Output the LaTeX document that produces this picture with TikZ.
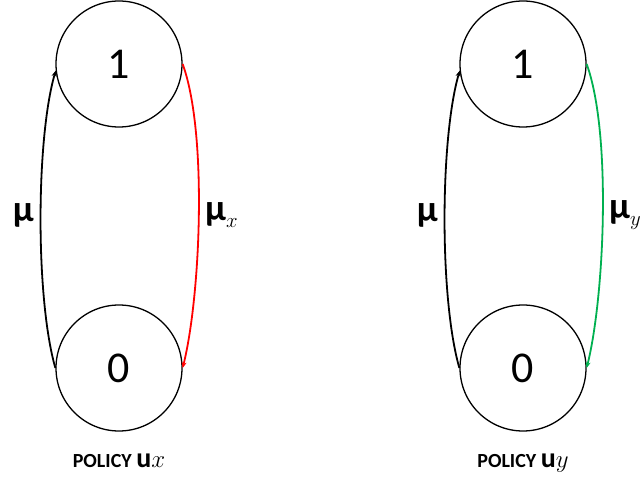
\documentclass[tikz,border=0pt]{standalone}
\usepackage{fontspec}
\setmainfont{Carlito}
\usetikzlibrary{arrows.meta,positioning}
\definecolor{myred}{RGB}{255,0,0}
\definecolor{mygreen}{RGB}{0,176,80}

\begin{document}
\begin{tikzpicture}[
  x=1pt,y=1pt,
  mystate/.style={
    draw,
    circle,
    line width=1.3pt,
    minimum size=126pt,
    inner sep=0pt,
    font=\fontsize{44}{44}\selectfont
    },
  myedge/.style={
    line width=1.8pt,
    -{Stealth[length=6pt,width=5pt]}
    },
  myrate/.style={
    inner sep=0pt,
    font=\fontsize{37}{37}\selectfont\bfseries
  }
]
\useasboundingbox (0,0) rectangle (640,479);

\foreach \Posx/\Col/\Sub in {119/myred/x, 523/mygreen/y}
{
  \node[mystate] (one\Sub) at (\Posx,415) {1};
  \node[mystate] (zero\Sub) at (\Posx,111) {0};
  \draw[myedge] (zero\Sub.west) to[out=106,in=254,looseness=0.62] (one\Sub.186);
  \draw[myedge, \Col] (one\Sub.east) to[out=-70,in=76,looseness=0.62] (zero\Sub.east);
  \node[myrate, anchor=east] (muleft\Sub) at (\Posx-85,264) {μ};
  \node[myrate, anchor=west] (muright\Sub) at (\Posx+86,264)
    {μ\raisebox{-7pt}{\fontsize{20}{20}\selectfont$\Sub$}};
  \node[anchor=base] (policy\Sub) at (\Posx,11)
    {\fontsize{20}{20}\selectfont\bfseries POLICY {\fontsize{28}{28}\selectfont u}{\fontsize{24}{24}\selectfont$\Sub$}};
}

\end{tikzpicture}
\end{document}
